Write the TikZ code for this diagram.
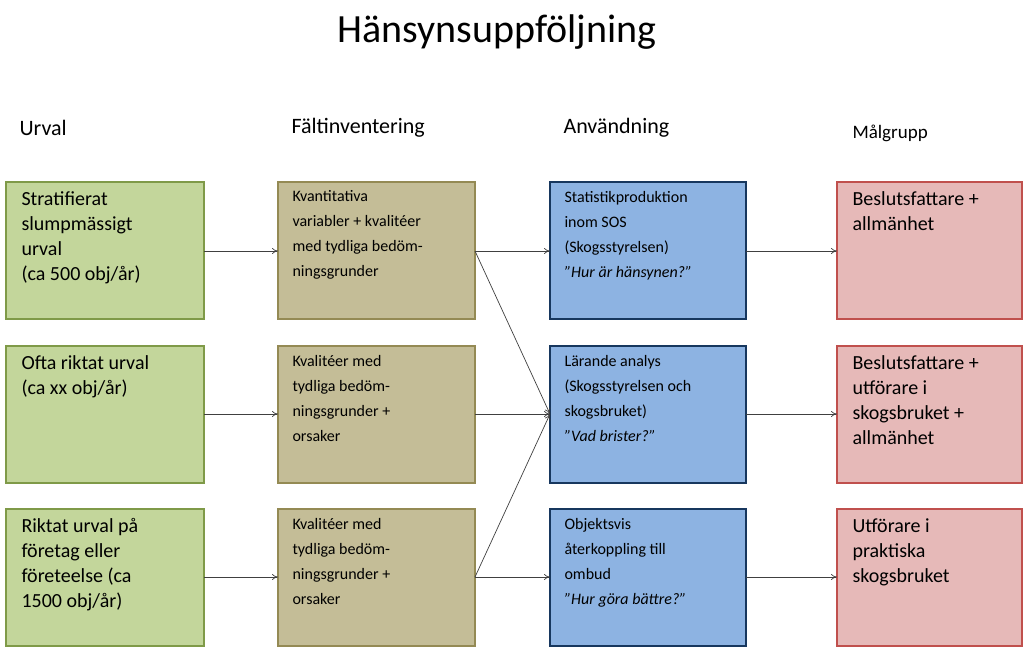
\documentclass[tikz,border=0pt]{standalone}
\usepackage{fontspec}
\setmainfont{Carlito}
\usetikzlibrary{arrows.meta}
\definecolor{gf}{HTML}{C3D69B}\definecolor{gd}{HTML}{7F9A48}
\definecolor{tf}{HTML}{C4BD97}\definecolor{td}{HTML}{948A54}
\definecolor{bf}{HTML}{8DB3E2}\definecolor{bd}{HTML}{17375E}
\definecolor{pf}{HTML}{E6B9B8}\definecolor{pd}{HTML}{C0504D}
\begin{document}
\begin{tikzpicture}[x=1pt,y=-1pt,
 box/.style={draw=#1,line width=1.2pt,anchor=north west,align=left,inner sep=0pt},
 t1/.style={font=\fontsize{20}{25}\selectfont},
 t2/.style={font=\fontsize{16}{25}\selectfont},
 hd/.style={anchor=west,font=\fontsize{22}{26}\selectfont},
 arr/.style={-{To[length=6pt,width=6pt]},draw=black!75,line width=0.7pt}]
\useasboundingbox[fill=white] (0,0) rectangle (1024,648);
\node[font=\fontsize{40}{48}\selectfont] (title) at (497,32) {Hänsynsuppföljning};
\node[hd] (h1) at (16,128) {Urval};
\node[hd] (h2) at (288,128) {Fältinventering};
\node[hd] (h3) at (560,128) {Användning};
\node[hd,font=\fontsize{19}{24}\selectfont] (h4) at (849,133) {Målgrupp};
% boxes
\foreach \n/\y in {1/182,2/346,3/509}{
 \path[draw=gd,fill=gf,line width=1.2pt] (6,\y) rectangle ++(198,137) coordinate (a\n);
 \path[draw=td,fill=tf,line width=1.2pt] (278,\y) rectangle ++(197,137);
 \path[draw=bd,fill=bf,line width=1.2pt] (550,\y) rectangle ++(196,137);
 \path[draw=pd,fill=pf,line width=1.2pt] (837,\y) rectangle ++(185,137);
}
\foreach \n/\y in {1/251,2/414,3/577}{
 \coordinate (a\n r) at (204,\y); \coordinate (b\n l) at (278,\y);
 \coordinate (b\n r) at (475,\y); \coordinate (c\n l) at (550,\y);
 \coordinate (c\n r) at (746,\y); \coordinate (d\n l) at (837,\y);
}
\node[t1,anchor=north west,align=left] (A1) at (18,188) {Stratifierat\\slumpmässigt\\urval\\(ca 500 obj/år)};
\node[t1,anchor=north west,align=left] (A2) at (18,352) {Ofta riktat urval\\(ca xx obj/år)};
\node[t1,anchor=north west,align=left] (A3) at (18,515) {Riktat urval på\\företag eller\\företeelse (ca\\1500 obj/år)};
\node[t2,anchor=north west,align=left] (B1) at (289,187) {Kvantitativa\\variabler + kvalitéer\\med tydliga bedöm-\\ningsgrunder};
\node[t2,anchor=north west,align=left] (B2) at (289,352) {Kvalitéer med\\tydliga bedöm-\\ningsgrunder +\\orsaker};
\node[t2,anchor=north west,align=left] (B3) at (289,515) {Kvalitéer med\\tydliga bedöm-\\ningsgrunder +\\orsaker};
\node[t2,anchor=north west,align=left] (C1) at (561,188) {Statistikproduktion\\inom SOS\\(Skogsstyrelsen)\\\textit{”Hur är hänsynen?”}};
\node[t2,anchor=north west,align=left] (C2) at (561,352) {Lärande analys\\(Skogsstyrelsen och\\skogsbruket)\\\textit{”Vad brister?”}};
\node[t2,anchor=north west,align=left] (C3) at (561,515) {Objektsvis\\återkoppling till\\ombud\\\textit{”Hur göra bättre?”}};
\node[t1,anchor=north west,align=left] (D1) at (849,188) {Beslutsfattare +\\allmänhet};
\node[t1,anchor=north west,align=left] (D2) at (849,352) {Beslutsfattare +\\utförare i\\skogsbruket +\\allmänhet};
\node[t1,anchor=north west,align=left] (D3) at (849,515) {Utförare i\\praktiska\\skogsbruket};
\foreach \n in {1,2,3}{
 \draw[arr] (a\n r) -- (b\n l);
 \draw[arr] (b\n r) -- (c\n l);
 \draw[arr] (c\n r) -- (d\n l);
}
\draw[arr] (b1r) -- (c2l);
\draw[arr] (b3r) -- (c2l);
\end{tikzpicture}
\end{document}
